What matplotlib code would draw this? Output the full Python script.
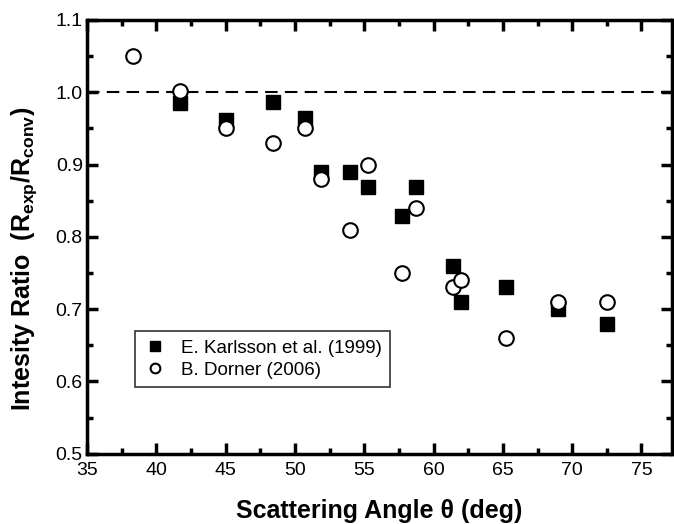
import matplotlib
matplotlib.use("Agg")
from matplotlib import pyplot as plt
from matplotlib.ticker import MultipleLocator

# E. Karlsson et al. (1999) - filled squares
karlsson_angle = [41.7, 45.0, 48.4, 50.7, 51.9, 54.0, 55.3, 57.7, 58.7, 61.4, 62.0, 65.2, 69.0, 72.5]
karlsson_ratio = [0.985, 0.962, 0.986, 0.965, 0.89, 0.889, 0.869, 0.829, 0.869, 0.76, 0.71, 0.73, 0.70, 0.68]

# B. Dorner (2006) - open circles
dorner_angle = [38.3, 41.7, 45.0, 48.4, 50.7, 51.9, 54.0, 55.3, 57.7, 58.7, 61.4, 62.0, 65.2, 69.0, 72.5]
dorner_ratio = [1.05, 1.002, 0.95, 0.93, 0.95, 0.88, 0.81, 0.90, 0.75, 0.84, 0.73, 0.74, 0.66, 0.71, 0.71]

plt.rcParams['font.family'] = ['Liberation Sans', 'DejaVu Sans']
plt.rcParams['mathtext.fontset'] = 'custom'
plt.rcParams['mathtext.rm'] = 'Liberation Sans:bold'
plt.rcParams['mathtext.bf'] = 'Liberation Sans:bold'
plt.rcParams['mathtext.default'] = 'bf'

fig = plt.figure(figsize=(6.74, 5.24), dpi=100)
ax = fig.add_axes([0.129, 0.134, 0.868, 0.828])

ax.axhline(1.0, color='black', linestyle=(0, (6, 3.5)), linewidth=1.5, zorder=1)

ax.plot(karlsson_angle, karlsson_ratio, linestyle='none', marker='s', markersize=9.5,
        color='black', label='E. Karlsson et al. (1999)', zorder=3)
ax.plot(dorner_angle, dorner_ratio, linestyle='none', marker='o', markersize=10.5,
        markerfacecolor='white', markeredgecolor='black', markeredgewidth=1.5,
        label='B. Dorner (2006)', zorder=4)

ax.set_xlim(35, 77.2)
ax.set_ylim(0.5, 1.1)
ax.xaxis.set_major_locator(MultipleLocator(5))
ax.xaxis.set_minor_locator(MultipleLocator(2.5))
ax.yaxis.set_major_locator(MultipleLocator(0.1))
ax.yaxis.set_minor_locator(MultipleLocator(0.05))
ax.yaxis.set_major_formatter(matplotlib.ticker.FormatStrFormatter('%.1f'))

ax.tick_params(which='both', direction='in', top=True, right=True, width=2.5, labelsize=14)
ax.tick_params(which='major', length=8)
ax.tick_params(which='minor', length=4)
ax.tick_params(axis='x', which='major', pad=6)
ax.tick_params(axis='y', which='major', pad=3)
for s in ax.spines.values():
    s.set_linewidth(2.5)

ax.set_xlabel('Scattering Angle θ (deg)', fontsize=18, fontweight='bold', labelpad=14)
ax.set_ylabel(r'Intesity Ratio  (R$_{exp}$/R$_{conv}$)', fontsize=18, fontweight='bold')
ax.yaxis.set_label_coords(-0.082, 0.45)

leg = ax.legend(loc='lower left', bbox_to_anchor=(0.082, 0.154), fontsize=13.5,
                frameon=True, fancybox=False, edgecolor='black', borderpad=0.45,
                handletextpad=0.8, labelspacing=0.25, handlelength=1.2, borderaxespad=0)
leg.get_frame().set_linewidth(1.2)
for h in leg.legend_handles:
    h.set_markersize(7)

fig.savefig('out.png', dpi=100)
